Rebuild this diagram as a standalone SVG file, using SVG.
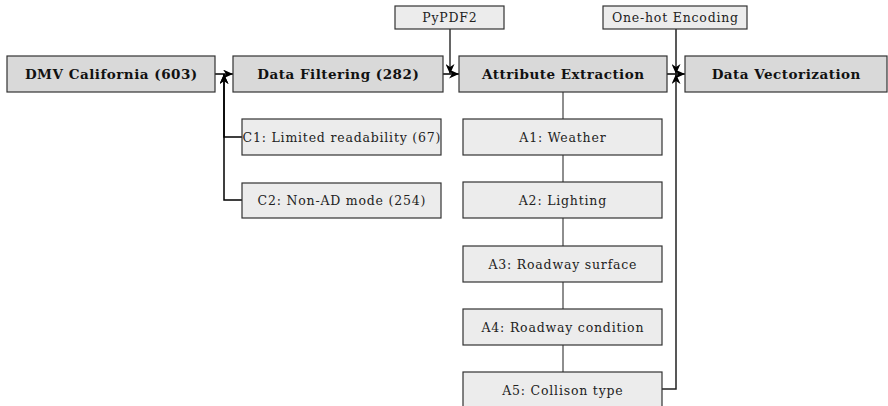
<svg xmlns="http://www.w3.org/2000/svg" width="888" height="406" viewBox="0 0 888 406">
<defs>
<marker id="ah" markerUnits="userSpaceOnUse" markerWidth="10" markerHeight="9" viewBox="0 0 10 9" refX="10" refY="4.5" orient="auto">
<path d="M0,0 L10,4.5 L0,9 L3,4.5 z" fill="#000"/>
</marker>
<style>
.main rect{fill:#d9d9d9;stroke:#333;stroke-width:1.2}
.sub rect{fill:#ececec;stroke:#333;stroke-width:1.2}
.main text{font-family:"DejaVu Serif",serif;font-weight:bold;font-size:13.5px;letter-spacing:0.5px;text-anchor:middle;fill:#111}
.sub text{font-family:"DejaVu Serif",serif;font-size:12.5px;letter-spacing:0.8px;text-anchor:middle;fill:#222}
.arr{fill:none;stroke:#000;stroke-width:1.5;marker-end:url(#ah)}
.ln{fill:none;stroke:#444;stroke-width:1.2}
</style>
</defs>
<g id="connectors">
<path class="ln" d="M563,92 V119 M563,155 V182 M563,218 V246 M563,282 V309 M563,345 V372"/>
<path class="arr" d="M215,74 H233"/>
<path class="arr" d="M242,137 H224 V74"/>
<path class="arr" d="M242,200 H224 V74"/>
<path class="arr" d="M443,74 H459"/>
<path class="arr" style="stroke:#333" d="M450,29 V74"/>
<path class="arr" d="M667,74 H685"/>
<path class="arr" style="stroke:#222" d="M676,29 V74"/>
<path class="arr" style="stroke:#222" d="M662,389 H676 V74"/>
</g>
<g id="dmv" class="main"><rect x="7" y="56" width="208" height="36"/><text x="111.3" y="78.5">DMV California (603)</text></g>
<g id="filtering" class="main"><rect x="233" y="56" width="210" height="36"/><text x="338.3" y="78.5">Data Filtering (282)</text></g>
<g id="extraction" class="main"><rect x="459" y="56" width="208" height="36"/><text x="563.3" y="78.5">Attribute Extraction</text></g>
<g id="vectorization" class="main"><rect x="685" y="56" width="202" height="36"/><text x="786.3" y="78.5">Data Vectorization</text></g>
<g id="pypdf2" class="sub"><rect x="395" y="6" width="109" height="23"/><text x="449.9" y="22">PyPDF2</text></g>
<g id="onehot" class="sub"><rect x="603" y="6" width="144" height="23"/><text x="675.4" y="22">One-hot Encoding</text></g>
<g id="c1" class="sub"><rect x="242" y="119" width="199" height="36"/><text x="341.9" y="141.5">C1: Limited readability (67)</text></g>
<g id="c2" class="sub"><rect x="242" y="183" width="199" height="35"/><text x="341.9" y="205">C2: Non-AD mode (254)</text></g>
<g id="a1" class="sub"><rect x="463" y="119" width="199" height="36"/><text x="562.9" y="141.5">A1: Weather</text></g>
<g id="a2" class="sub"><rect x="463" y="182" width="199" height="36"/><text x="562.9" y="204.5">A2: Lighting</text></g>
<g id="a3" class="sub"><rect x="463" y="246" width="199" height="36"/><text x="562.9" y="268.5">A3: Roadway surface</text></g>
<g id="a4" class="sub"><rect x="463" y="309" width="199" height="36"/><text x="562.9" y="331.5">A4: Roadway condition</text></g>
<g id="a5" class="sub"><rect x="463" y="372" width="199" height="36"/><text x="562.9" y="394.5">A5: Collison type</text></g>
</svg>
